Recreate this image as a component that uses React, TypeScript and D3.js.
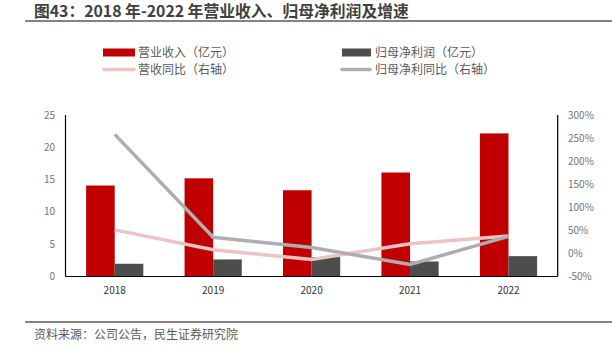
import React from "react";
import * as d3 from "d3";

const years = ["2018", "2019", "2020", "2021", "2022"];
const revenue = [14.08, 15.2, 13.35, 16.1, 22.15];
const netProfit = [1.97, 2.64, 3.0, 2.33, 3.15];
const revenueYoY = [51, 8, -13, 21, 38];
const profitYoY = [258, 35, 13, -24, 37];
const leftTicks = [0, 5, 10, 15, 20, 25];
const rightTicks = [-50, 0, 50, 100, 150, 200, 250, 300];

const RED = "#C00000";
const DARK = "#4D4D4D";
const PINK = "#EDC3C3";
const GRAY = "#AEAEAE";
const FONT = "'Noto Sans CJK SC', 'Noto Sans', sans-serif";

export default function App() {
  const left = 65.5, right = 557.7, top = 115, bottom = 276.5;
  const x = d3.scaleBand<string>().domain(years).range([left, right]);
  const yL = d3.scaleLinear().domain([0, 25]).range([bottom, top]);
  const yR = d3.scaleLinear().domain([-50, 300]).range([bottom, top]);
  const bw = 28.6;
  const cx = (y: string) => (x(y) as number) + x.bandwidth() / 2;

  const line = d3.line<number>().x((_, i) => cx(years[i])).y((d) => yR(d));

  return (
    <svg width={612} height={354} style={{ position: "absolute", left: 0, top: 0 }} fontFamily={FONT}>
      <rect width={612} height={354} fill="#fff" />
      <text x={34} y={17} fontSize={15.8} fontWeight="bold" fill="#404040">
        图43：2018 年-2022 年营业收入、归母净利润及增速
      </text>
      <line x1={25} x2={612} y1={21} y2={21} stroke="#595959" strokeWidth={1.3} />

      {/* legend */}
      <rect x={103} y={48.5} width={32} height={8} fill={RED} />
      <text x={138} y={56.5} fontSize={12} fill="#595959">营业收入（亿元）</text>
      <rect x={342} y={48.5} width={29} height={8} fill={DARK} />
      <text x={375} y={56.5} fontSize={12} fill="#595959">归母净利润（亿元）</text>
      <line x1={104} x2={134} y1={69.5} y2={69.5} stroke={PINK} strokeWidth={3.5} strokeLinecap="round" />
      <text x={138} y={74} fontSize={12} fill="#595959">营收同比（右轴）</text>
      <line x1={342} x2={370} y1={69.5} y2={69.5} stroke={GRAY} strokeWidth={3.5} strokeLinecap="round" />
      <text x={375} y={74} fontSize={12} fill="#595959">归母净利同比（右轴）</text>

      {/* bars */}
      {years.map((y, i) => (
        <g key={y}>
          <rect x={cx(y) - bw} y={yL(revenue[i])} width={bw} height={bottom - yL(revenue[i])} fill={RED} />
          <rect x={cx(y)} y={yL(netProfit[i])} width={bw} height={bottom - yL(netProfit[i])} fill={DARK} />
        </g>
      ))}

      {/* lines */}
      <path d={line(revenueYoY) || ""} fill="none" stroke={PINK} strokeWidth={3.5} />
      <path d={line(profitYoY) || ""} fill="none" stroke={GRAY} strokeWidth={3.5} />

      {/* axes */}
      <line x1={left} x2={left} y1={top} y2={bottom} stroke="#000" strokeWidth={1.2} />
      <line x1={right} x2={right} y1={top} y2={bottom} stroke="#000" strokeWidth={1.2} />
      <line x1={left} x2={right} y1={bottom} y2={bottom} stroke="#000" strokeWidth={1.2} />

      {leftTicks.map((t) => (
        <text key={t} x={55} y={yL(t) + 3.5} fontSize={10} fill="#737373" textAnchor="end">{t}</text>
      ))}
      {rightTicks.map((t) => (
        <text key={t} x={568} y={yR(t) + 3.5} fontSize={10} fill="#737373">{t}%</text>
      ))}
      {years.map((y) => (
        <text key={y} x={cx(y)} y={294} fontSize={10} fill="#333" textAnchor="middle">{y}</text>
      ))}

      <line x1={25} x2={612} y1={322} y2={322} stroke="#595959" strokeWidth={1.3} />
      <text x={34} y={339} fontSize={12} fill="#595959">资料来源：公司公告，民生证券研究院</text>
    </svg>
  );
}
